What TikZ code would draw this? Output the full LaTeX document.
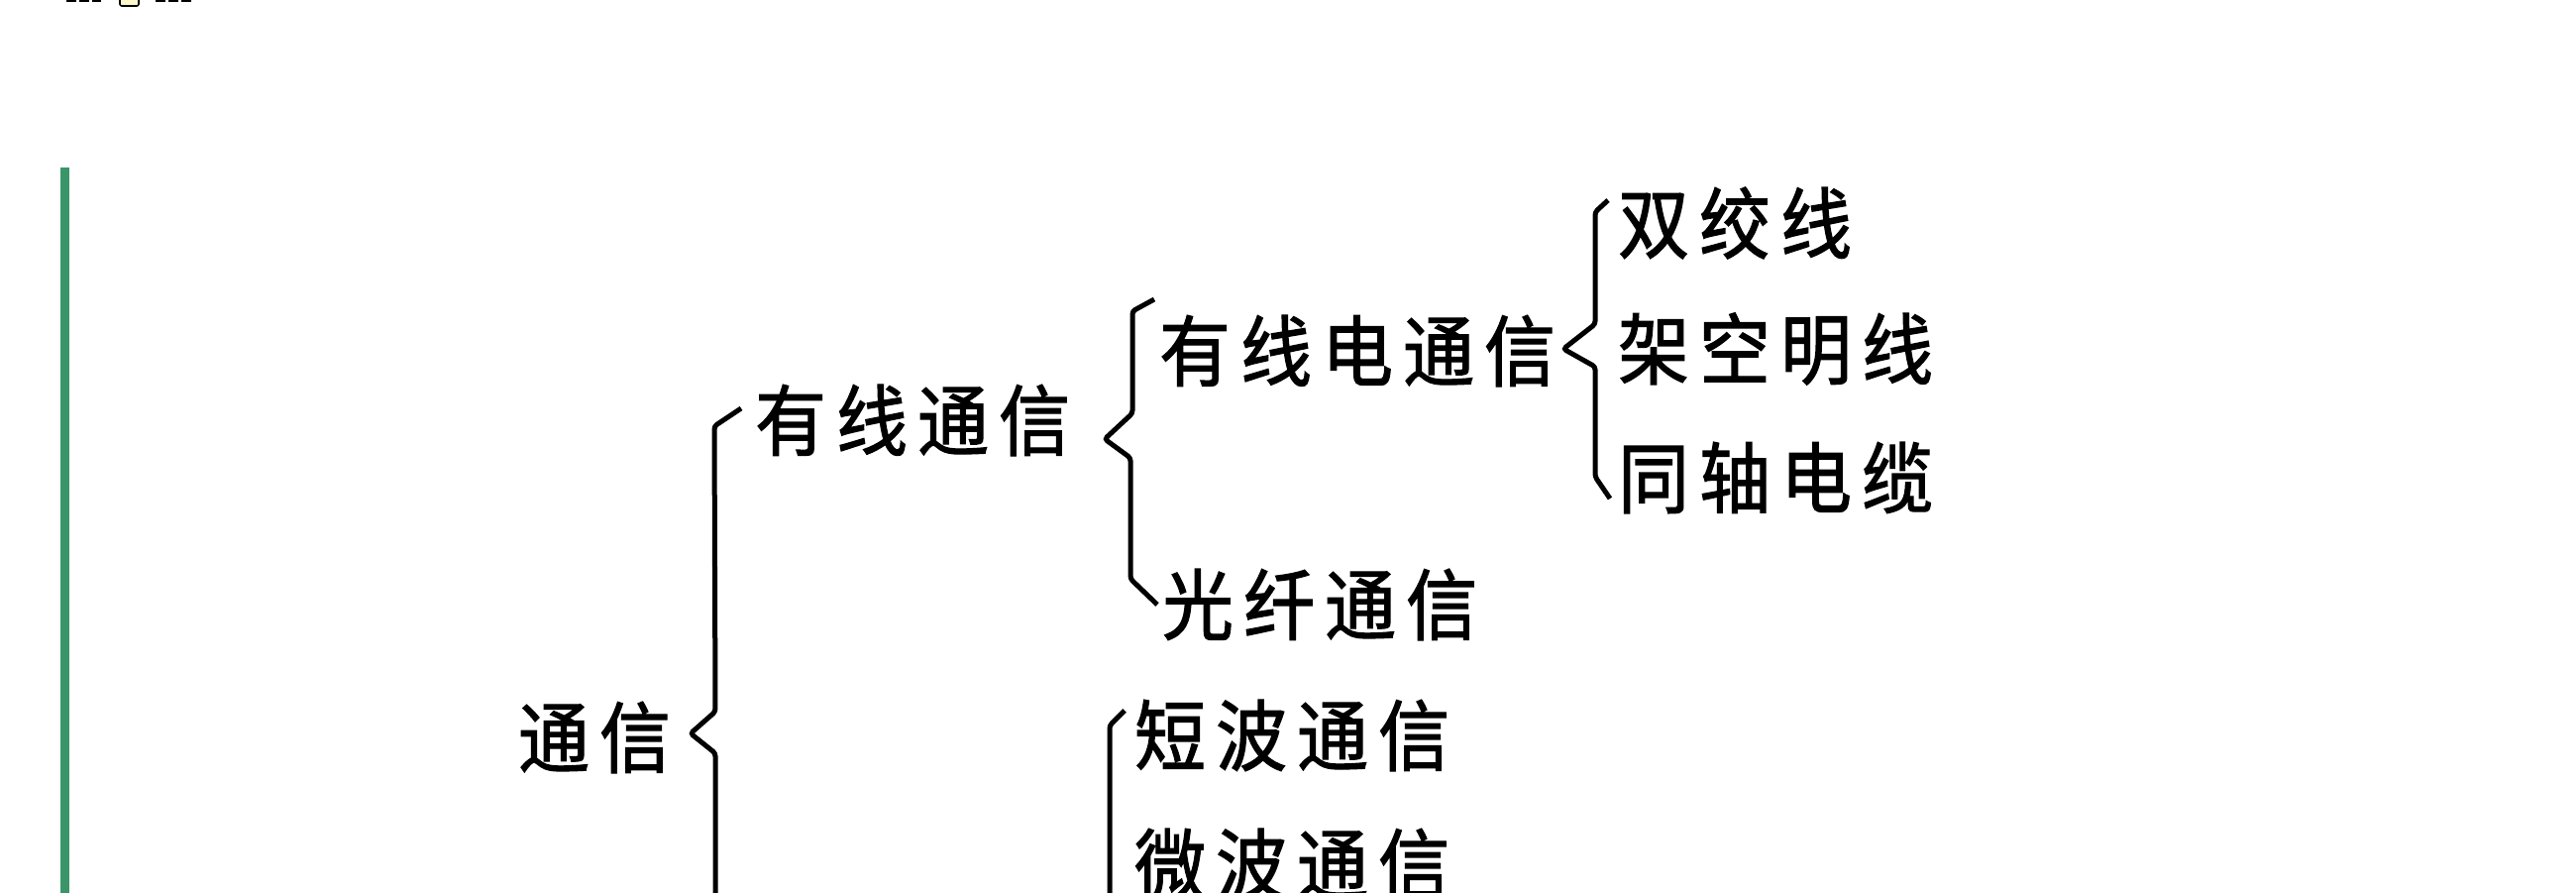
\documentclass[tikz,border=0pt]{standalone}
\usepackage{fontspec}
\newfontfamily\cjk[FakeStretch=0.92,FakeBold=1.6]{Noto Sans CJK SC}
\definecolor{barGreen}{RGB}{58,150,105}
\definecolor{tabYellow}{RGB}{252,248,200}
\newcommand\spc[1]{\spcloop#1\relax}
\def\spcloop#1{\ifx\relax#1\else\makebox[82pt][l]{#1}\expandafter\spcloop\fi}
\begin{document}
\begin{tikzpicture}[x=1pt,y=-1pt,
  lab/.style={anchor=west,inner sep=0pt,font=\cjk\fontsize{78}{78}\selectfont},
  bracel/.style={line width=5pt,rounded corners=3pt,line cap=butt},
  dashmark/.style={fill=black}]
\useasboundingbox[fill=white] (0,0) rectangle (2600,900);
% cut-off marks at the top
\fill[dashmark] (67,0) rectangle (77,2.2);
\fill[dashmark] (80,0) rectangle (90,2.2);
\fill[dashmark] (93,0) rectangle (102,2.2);
\filldraw[fill=tabYellow,draw=black,line width=1.6pt,rounded corners=2pt] (121,-4) rectangle (140,6);
\fill[dashmark] (157,0) rectangle (167,2.2);
\fill[dashmark] (170,0) rectangle (180,2.2);
\fill[dashmark] (183,0) rectangle (193,2.2);
% green bar
\fill[barGreen] (61,169) rectangle (69.5,905);
% labels
\node[lab] (root)   at (523,744) {\spc{通信}};
\node[lab] (wired)  at (762,424) {\spc{有线通信}};
\node[lab] (elec)   at (1170,354) {\spc{有线电通信}};
\node[lab] (fiber)  at (1173,610) {\spc{光纤通信}};
\node[lab] (twist)  at (1633,225) {\spc{双绞线}};
\node[lab] (open)   at (1633,352) {\spc{架空明线}};
\node[lab] (coax)   at (1633,482) {\spc{同轴电缆}};
\node[lab] (short)  at (1145,742) {\spc{短波通信}};
\node[lab] (micro)  at (1145,872) {\spc{微波通信}};
% brace coordinates
\coordinate (a1) at (748,412); \coordinate (a2) at (721,430);
\coordinate (a3) at (722,718); \coordinate (a4) at (697,740);
\coordinate (a5) at (722,760); \coordinate (a6) at (722,915);
\coordinate (b1) at (1165,302); \coordinate (b2) at (1143,314);
\coordinate (b3) at (1143,417); \coordinate (b4) at (1115,443);
\coordinate (b5) at (1141,462); \coordinate (b6) at (1141,584);
\coordinate (b7) at (1168,610);
\coordinate (c1) at (1623,202); \coordinate (c2) at (1610,214);
\coordinate (c3) at (1610,327); \coordinate (c4) at (1578,352);
\coordinate (c5) at (1610,370); \coordinate (c6) at (1610,481);
\coordinate (c7) at (1625,503);
\coordinate (d1) at (1135,717); \coordinate (d2) at (1120,732);
\coordinate (d3) at (1120,915);
% braces
\draw[bracel] (a1) -- (a2) -- (a3) -- (a4) -- (a5) -- (a6);
\draw[bracel] (b1) -- (b2) -- (b3) -- (b4) -- (b5) -- (b6) -- (b7);
\draw[bracel] (c1) -- (c2) -- (c3) -- (c4) -- (c5) -- (c6) -- (c7);
\draw[bracel] (d1) -- (d2) -- (d3);
\end{tikzpicture}
\end{document}
